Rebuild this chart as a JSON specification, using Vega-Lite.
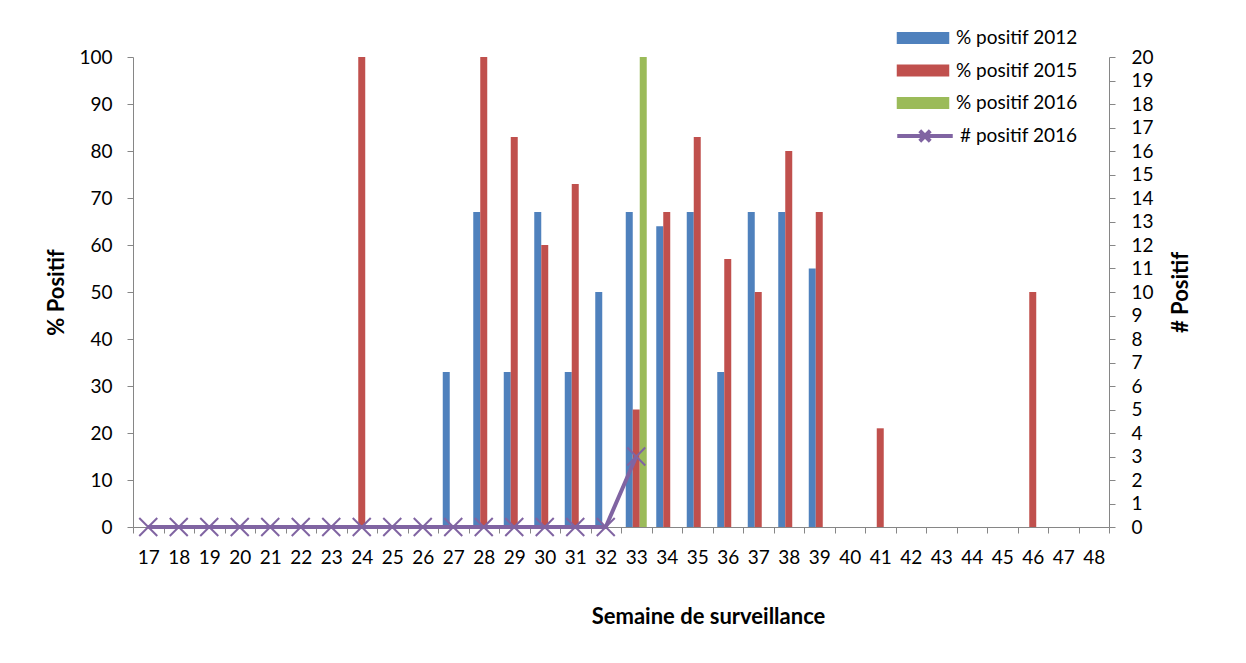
{
  "$schema": "https://vega.github.io/schema/vega-lite/v6.json",
  "width": 976,
  "height": 470,
  "autosize": {"type": "none"},
  "padding": {"left": 133, "top": 57, "right": 137, "bottom": 136},
  "background": "white",
  "config": {
    "view": {"stroke": null},
    "font": "Lato",
    "axis": {
      "domainColor": "#868686",
      "tickColor": "#868686",
      "tickSize": 6,
      "labelColor": "#000000",
      "labelFontSize": 19,
      "labelFont": "Lato",
      "titleFont": "Lato",
      "titleFontSize": 22,
      "titleFontWeight": "bold",
      "titleColor": "#000000",
      "grid": false
    },
    "legend": {
      "labelFont": "Lato",
      "labelFontSize": 19,
      "labelColor": "#000000",
      "padding": 0
    }
  },
  "datasets": {
    "bars": [
      {"week": 27, "series": "% positif 2012", "pct": 33},
      {"week": 28, "series": "% positif 2012", "pct": 67},
      {"week": 29, "series": "% positif 2012", "pct": 33},
      {"week": 30, "series": "% positif 2012", "pct": 67},
      {"week": 31, "series": "% positif 2012", "pct": 33},
      {"week": 32, "series": "% positif 2012", "pct": 50},
      {"week": 33, "series": "% positif 2012", "pct": 67},
      {"week": 34, "series": "% positif 2012", "pct": 64},
      {"week": 35, "series": "% positif 2012", "pct": 67},
      {"week": 36, "series": "% positif 2012", "pct": 33},
      {"week": 37, "series": "% positif 2012", "pct": 67},
      {"week": 38, "series": "% positif 2012", "pct": 67},
      {"week": 39, "series": "% positif 2012", "pct": 55},
      {"week": 24, "series": "% positif 2015", "pct": 100},
      {"week": 28, "series": "% positif 2015", "pct": 100},
      {"week": 29, "series": "% positif 2015", "pct": 83},
      {"week": 30, "series": "% positif 2015", "pct": 60},
      {"week": 31, "series": "% positif 2015", "pct": 73},
      {"week": 33, "series": "% positif 2015", "pct": 25},
      {"week": 34, "series": "% positif 2015", "pct": 67},
      {"week": 35, "series": "% positif 2015", "pct": 83},
      {"week": 36, "series": "% positif 2015", "pct": 57},
      {"week": 37, "series": "% positif 2015", "pct": 50},
      {"week": 38, "series": "% positif 2015", "pct": 80},
      {"week": 39, "series": "% positif 2015", "pct": 67},
      {"week": 41, "series": "% positif 2015", "pct": 21},
      {"week": 46, "series": "% positif 2015", "pct": 50},
      {"week": 33, "series": "% positif 2016", "pct": 100}
    ],
    "counts": [
      {"week": 17, "n": 0}, {"week": 18, "n": 0}, {"week": 19, "n": 0},
      {"week": 20, "n": 0}, {"week": 21, "n": 0}, {"week": 22, "n": 0},
      {"week": 23, "n": 0}, {"week": 24, "n": 0}, {"week": 25, "n": 0},
      {"week": 26, "n": 0}, {"week": 27, "n": 0}, {"week": 28, "n": 0},
      {"week": 29, "n": 0}, {"week": 30, "n": 0}, {"week": 31, "n": 0},
      {"week": 32, "n": 0}, {"week": 33, "n": 3}
    ]
  },
  "layer": [
    {
      "data": {"name": "bars"},
      "mark": {"type": "bar"},
      "encoding": {
        "x": {
          "field": "week",
          "type": "ordinal",
          "scale": {
            "domain": [17,18,19,20,21,22,23,24,25,26,27,28,29,30,31,32,33,34,35,36,37,38,39,40,41,42,43,44,45,46,47,48],
            "paddingInner": 0,
            "paddingOuter": 0
          },
          "axis": {
            "title": "Semaine de surveillance",
            "labelAngle": 0,
            "tickBand": "extent",
            "labelPadding": 15,
            "titleX": 575,
            "titleY": 96,
            "titleAnchor": null,
            "titleAlign": "center",
            "titleBaseline": "alphabetic"
          }
        },
        "xOffset": {
          "field": "series",
          "type": "nominal",
          "scale": {
            "domain": ["% positif 2012", "% positif 2015", "% positif 2016"],
            "paddingInner": 0,
            "paddingOuter": 0.68
          }
        },
        "y": {
          "field": "pct",
          "type": "quantitative",
          "scale": {"domain": [0, 100]},
          "axis": {
            "orient": "left",
            "title": "% Positif",
            "values": [0,10,20,30,40,50,60,70,80,90,100],
            "labelPadding": 15,
            "titleAngle": -90,
            "titleX": -70,
            "titleBaseline": "alphabetic"
          }
        },
        "color": {
          "field": "series",
          "type": "nominal",
          "scale": {
            "domain": ["% positif 2012", "% positif 2015", "% positif 2016"],
            "range": ["#4F81BD", "#C0504D", "#9BBB59"]
          },
          "legend": {
            "title": null,
            "orient": "none",
            "legendX": 775,
            "legendY": -34,
            "symbolType": "M-1.75,-0.4H1.75V0.4H-1.75Z",
            "symbolSize": 900,
            "symbolStrokeWidth": 0,
            "labelOffset": 18,
            "rowPadding": 7.5
          }
        }
      }
    },
    {
      "data": {"name": "counts"},
      "mark": {"type": "line", "strokeWidth": 4},
      "encoding": {
        "x": {
          "field": "week",
          "type": "ordinal",
          "scale": {
            "domain": [17,18,19,20,21,22,23,24,25,26,27,28,29,30,31,32,33,34,35,36,37,38,39,40,41,42,43,44,45,46,47,48]
          }
        },
        "y": {
          "field": "n",
          "type": "quantitative",
          "scale": {"domain": [0, 20]},
          "axis": {
            "orient": "right",
            "title": "# Positif",
            "values": [0,1,2,3,4,5,6,7,8,9,10,11,12,13,14,15,16,17,18,19,20],
            "labelPadding": 16,
            "titleAngle": -90,
            "titleX": 78,
            "titleBaseline": "alphabetic"
          }
        },
        "stroke": {
          "datum": "# positif  2016",
          "scale": {"range": ["#8064A2"]},
          "legend": {
            "title": null,
            "orient": "none",
            "legendX": 775,
            "legendY": 62,
            "symbolType": "M-1.85,0H1.85M-0.35,-0.35L0.35,0.35M-0.35,0.35L0.35,-0.35",
            "symbolSize": 900,
            "symbolStrokeWidth": 4,
            "labelOffset": 18
          }
        }
      }
    },
    {
      "data": {"name": "counts"},
      "mark": {
        "type": "point",
        "shape": "M-1,-1L1,1M-1,1L1,-1",
        "filled": false,
        "size": 324,
        "strokeWidth": 2,
        "color": "#8064A2",
        "opacity": 1
      },
      "encoding": {
        "x": {
          "field": "week",
          "type": "ordinal",
          "scale": {
            "domain": [17,18,19,20,21,22,23,24,25,26,27,28,29,30,31,32,33,34,35,36,37,38,39,40,41,42,43,44,45,46,47,48]
          }
        },
        "y": {
          "field": "n",
          "type": "quantitative",
          "scale": {"domain": [0, 20]},
          "axis": null
        }
      }
    }
  ],
  "resolve": {"scale": {"y": "independent", "stroke": "independent"}}
}
